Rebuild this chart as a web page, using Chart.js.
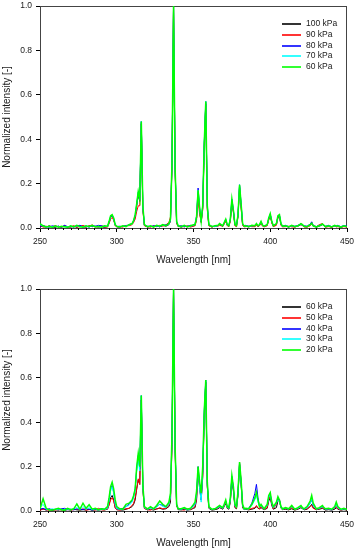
<!DOCTYPE html>
<html>
<head>
<meta charset="utf-8">
<script src="https://cdn.jsdelivr.net/npm/chart.js@4.4.0/dist/chart.umd.min.js"></script>
<style>
html, body { margin: 0; padding: 0; background: #fff; overflow: hidden; width: 356px; height: 550px; }
.box { position: absolute; left: 0; width: 356px; height: 275px; }
</style>
</head>
<body>
<div class="box" style="top:0"><canvas id="topChart" width="356" height="275"></canvas></div>
<div class="box" style="top:283px"><canvas id="bottomChart" width="356" height="275"></canvas></div>
<script>
// wavelength grid [nm], shared by both panels
const wavelengths = [
  250,252,254,256,258,260,262,264,266,268,270,272,274,276,278,280,282,284,286,288,290,292,294,
  295,296,297,298,299,300,
  302,304,306,308,310,
  311,312,313,314,315,316,317,318,
  320,322,324,326,328,330,332,334,
  335,336,337,338,339,340,
  342,344,346,348,350,
  351,352,353,354,355,356,357,358,359,360,
  362,364,366,
  367,368,369,370,371,372,373,374,375,376,377,378,379,380,381,382,383,384,
  386,388,
  390,391,392,393,394,395,396,
  398,399,400,401,402,404,405,406,407,408,
  410,412,414,416,418,
  420,421,422,
  424,426,427,428,430,432,
  434,435,436,
  438,440,442,443,444,446,448,450
];

// upper panel
const top100 = [
  0.01,0.006,0.004,0.01,0.005,0.003,0.008,0.004,0.01,0.006,0.004,0.008,0.003,0.01,0.005,0.004,0.01,0.006,0.008,0.004,0.006,0.003,0.006,
  0.025,0.05,0.055,0.04,0.012,0.005,
  0.004,0.008,0.01,0.012,0.018,
  0.03,0.05,0.1,0.15,0.12,0.47,0.09,0.012,
  0.004,0.008,0.006,0.01,0.005,0.012,0.008,0.015,
  0.03,0.28,1.0,0.27,0.025,0.008,
  0.004,0.008,0.006,0.008,0.01,
  0.012,0.045,0.16,0.08,0.025,0.09,0.37,0.56,0.09,0.012,
  0.005,0.008,0.01,
  0.015,0.012,0.008,0.02,0.035,0.012,0.008,0.035,0.12,0.075,0.012,0.008,0.055,0.19,0.1,0.015,0.006,0.008,
  0.005,0.01,
  0.008,0.015,0.008,0.012,0.025,0.01,0.006,
  0.012,0.04,0.06,0.025,0.008,0.015,0.05,0.055,0.015,0.006,
  0.008,0.004,0.01,0.005,0.008,
  0.015,0.012,0.006,
  0.005,0.012,0.02,0.008,0.004,0.008,
  0.015,0.01,0.005,
  0.008,0.004,0.01,0.006,0.008,0.003,0.008,0.005
];
const top90 = [
  0.012,0.004,0.008,0.003,0.006,0.01,0.005,0.003,0.008,0.004,0.006,0.01,0.004,0.006,0.012,0.005,0.008,0.014,0.004,0.006,0.01,0.005,0.004,
  0.02,0.04,0.048,0.035,0.01,0.006,
  0.006,0.004,0.012,0.01,0.015,
  0.025,0.04,0.075,0.1,0.1,0.47,0.08,0.01,
  0.006,0.004,0.01,0.006,0.012,0.008,0.014,0.025,
  0.05,0.28,1.0,0.26,0.02,0.006,
  0.008,0.005,0.01,0.004,0.008,
  0.01,0.035,0.13,0.06,0.03,0.08,0.36,0.56,0.08,0.01,
  0.004,0.01,0.008,
  0.012,0.01,0.006,0.018,0.03,0.01,0.006,0.03,0.11,0.07,0.01,0.006,0.05,0.18,0.09,0.012,0.005,0.006,
  0.008,0.006,
  0.006,0.012,0.006,0.01,0.02,0.008,0.005,
  0.01,0.035,0.055,0.022,0.006,0.012,0.045,0.05,0.012,0.005,
  0.006,0.008,0.005,0.004,0.01,
  0.02,0.01,0.005,
  0.004,0.01,0.025,0.01,0.006,0.015,
  0.02,0.01,0.004,
  0.006,0.004,0.008,0.005,0.006,0.004,0.006,0.004
];
const top80 = [
  0.008,0.012,0.006,0.004,0.01,0.006,0.008,0.004,0.012,0.005,0.008,0.004,0.01,0.012,0.006,0.008,0.004,0.01,0.008,0.012,0.01,0.006,0.008,
  0.025,0.05,0.058,0.042,0.014,0.006,
  0.008,0.006,0.01,0.014,0.02,
  0.032,0.055,0.105,0.16,0.125,0.48,0.095,0.014,
  0.008,0.006,0.01,0.008,0.006,0.012,0.014,0.018,
  0.035,0.3,1.0,0.28,0.028,0.008,
  0.01,0.006,0.008,0.012,0.01,
  0.018,0.055,0.18,0.09,0.03,0.1,0.38,0.57,0.1,0.014,
  0.008,0.006,0.012,
  0.018,0.012,0.01,0.022,0.038,0.014,0.01,0.04,0.13,0.08,0.014,0.012,0.058,0.195,0.11,0.018,0.01,0.012,
  0.008,0.01,
  0.012,0.018,0.008,0.014,0.028,0.014,0.01,
  0.014,0.042,0.062,0.028,0.012,0.018,0.052,0.058,0.018,0.01,
  0.012,0.006,0.01,0.008,0.012,
  0.018,0.012,0.01,
  0.008,0.018,0.028,0.012,0.006,0.012,
  0.016,0.01,0.008,
  0.012,0.006,0.01,0.01,0.012,0.006,0.012,0.008
];
const top70 = [
  0.015,0.008,0.006,0.005,0.006,0.008,0.006,0.006,0.005,0.006,0.008,0.006,0.01,0.005,0.006,0.008,0.005,0.01,0.006,0.006,0.006,0.008,0.006,
  0.028,0.052,0.058,0.043,0.013,0.007,
  0.006,0.008,0.008,0.013,0.018,
  0.033,0.058,0.108,0.162,0.128,0.48,0.098,0.014,
  0.006,0.008,0.006,0.01,0.008,0.013,0.01,0.018,
  0.038,0.3,1.0,0.28,0.03,0.01,
  0.006,0.01,0.006,0.008,0.012,
  0.016,0.05,0.17,0.088,0.03,0.1,0.38,0.57,0.1,0.014,
  0.006,0.008,0.01,
  0.018,0.014,0.01,0.024,0.04,0.014,0.01,0.04,0.13,0.08,0.015,0.01,0.06,0.195,0.11,0.02,0.008,0.01,
  0.006,0.01,
  0.01,0.018,0.01,0.014,0.028,0.012,0.008,
  0.014,0.044,0.064,0.03,0.01,0.018,0.054,0.058,0.018,0.008,
  0.01,0.006,0.01,0.006,0.01,
  0.018,0.014,0.008,
  0.006,0.014,0.022,0.01,0.006,0.01,
  0.016,0.012,0.006,
  0.01,0.006,0.01,0.008,0.01,0.005,0.01,0.006
];
const top60 = [
  0.02,0.01,0.005,0.008,0.003,0.01,0.004,0.008,0.006,0.003,0.01,0.005,0.012,0.006,0.004,0.01,0.006,0.012,0.005,0.008,0.004,0.01,0.008,
  0.03,0.055,0.06,0.045,0.015,0.008,
  0.005,0.01,0.006,0.015,0.02,
  0.035,0.06,0.11,0.165,0.13,0.48,0.1,0.015,
  0.006,0.01,0.004,0.012,0.008,0.015,0.01,0.02,
  0.04,0.3,1.0,0.28,0.03,0.01,
  0.006,0.012,0.005,0.01,0.015,
  0.015,0.05,0.17,0.09,0.03,0.1,0.38,0.57,0.1,0.015,
  0.006,0.01,0.012,
  0.02,0.015,0.01,0.025,0.04,0.015,0.01,0.04,0.13,0.08,0.015,0.01,0.06,0.195,0.11,0.02,0.008,0.01,
  0.006,0.012,
  0.01,0.02,0.01,0.015,0.03,0.012,0.008,
  0.015,0.045,0.065,0.03,0.01,0.02,0.055,0.06,0.02,0.008,
  0.01,0.005,0.012,0.006,0.01,
  0.02,0.015,0.008,
  0.006,0.015,0.022,0.01,0.005,0.01,
  0.018,0.012,0.006,
  0.01,0.005,0.012,0.008,0.01,0.004,0.01,0.006
];

// lower panel
const bot60 = [
  0.006,0.01,0.004,0.008,0.003,0.006,0.004,0.008,0.003,0.006,0.004,0.008,0.005,0.004,0.006,0.004,0.008,0.003,0.006,0.004,0.006,0.005,0.008,
  0.03,0.06,0.07,0.05,0.015,0.006,
  0.005,0.004,0.008,0.012,0.02,
  0.03,0.05,0.1,0.14,0.12,0.5,0.1,0.012,
  0.005,0.008,0.004,0.01,0.012,0.008,0.01,0.02,
  0.04,0.3,1.0,0.28,0.025,0.006,
  0.005,0.008,0.004,0.006,0.012,
  0.015,0.05,0.17,0.1,0.05,0.15,0.42,0.58,0.11,0.012,
  0.004,0.006,0.01,
  0.015,0.012,0.008,0.02,0.035,0.012,0.008,0.04,0.14,0.09,0.015,0.01,0.07,0.21,0.12,0.015,0.006,0.008,
  0.005,0.008,
  0.012,0.02,0.012,0.01,0.015,0.01,0.006,
  0.012,0.045,0.06,0.025,0.008,0.015,0.045,0.05,0.012,0.006,
  0.008,0.005,0.01,0.004,0.008,
  0.015,0.01,0.005,
  0.008,0.02,0.03,0.015,0.006,0.008,
  0.012,0.008,0.004,
  0.006,0.004,0.008,0.015,0.008,0.004,0.006,0.004
];
const bot50 = [
  0.004,0.008,0.006,0.003,0.006,0.004,0.008,0.003,0.006,0.01,0.004,0.006,0.008,0.005,0.01,0.004,0.006,0.008,0.004,0.012,0.006,0.004,0.01,
  0.025,0.05,0.06,0.045,0.015,0.006,
  0.004,0.008,0.01,0.012,0.025,
  0.035,0.06,0.1,0.145,0.12,0.5,0.1,0.012,
  0.006,0.004,0.01,0.008,0.015,0.01,0.012,0.025,
  0.06,0.3,1.0,0.28,0.025,0.008,
  0.006,0.004,0.01,0.006,0.015,
  0.02,0.06,0.18,0.11,0.05,0.16,0.43,0.58,0.11,0.014,
  0.006,0.008,0.012,
  0.018,0.015,0.01,0.025,0.04,0.014,0.01,0.045,0.15,0.1,0.02,0.012,0.08,0.22,0.13,0.02,0.008,0.01,
  0.006,0.012,
  0.015,0.025,0.015,0.008,0.02,0.012,0.006,
  0.015,0.05,0.07,0.03,0.01,0.03,0.06,0.045,0.015,0.008,
  0.01,0.006,0.015,0.005,0.01,
  0.018,0.012,0.006,
  0.01,0.02,0.025,0.012,0.006,0.01,
  0.015,0.01,0.006,
  0.008,0.006,0.012,0.02,0.01,0.005,0.008,0.005
];
const bot40 = [
  0.008,0.012,0.006,0.01,0.005,0.008,0.006,0.01,0.012,0.006,0.008,0.005,0.01,0.008,0.006,0.012,0.008,0.005,0.008,0.006,0.01,0.008,0.015,
  0.05,0.1,0.115,0.085,0.035,0.012,
  0.008,0.012,0.02,0.03,0.045,
  0.065,0.1,0.19,0.25,0.19,0.52,0.12,0.018,
  0.008,0.015,0.012,0.02,0.03,0.025,0.018,0.035,
  0.07,0.34,1.0,0.3,0.03,0.01,
  0.008,0.012,0.006,0.01,0.025,
  0.03,0.08,0.2,0.12,0.05,0.18,0.45,0.59,0.12,0.018,
  0.006,0.01,0.015,
  0.02,0.018,0.012,0.028,0.045,0.018,0.012,0.055,0.155,0.1,0.025,0.018,0.085,0.215,0.13,0.025,0.01,0.01,
  0.012,0.035,
  0.08,0.12,0.06,0.02,0.025,0.015,0.008,
  0.025,0.06,0.075,0.035,0.015,0.035,0.055,0.05,0.018,0.01,
  0.012,0.008,0.02,0.01,0.012,
  0.022,0.012,0.008,
  0.015,0.035,0.05,0.025,0.008,0.012,
  0.02,0.012,0.008,
  0.01,0.006,0.015,0.03,0.015,0.006,0.01,0.006
];
const bot30 = [
  0.015,0.03,0.008,0.006,0.01,0.006,0.008,0.005,0.006,0.008,0.005,0.01,0.015,0.006,0.02,0.008,0.015,0.006,0.01,0.005,0.008,0.006,0.012,
  0.045,0.09,0.11,0.08,0.03,0.01,
  0.008,0.006,0.02,0.025,0.04,
  0.06,0.09,0.18,0.23,0.18,0.52,0.11,0.015,
  0.008,0.012,0.008,0.018,0.03,0.02,0.015,0.03,
  0.065,0.33,1.0,0.3,0.03,0.01,
  0.008,0.012,0.006,0.01,0.02,
  0.03,0.075,0.19,0.1,0.04,0.18,0.44,0.59,0.12,0.016,
  0.006,0.01,0.015,
  0.02,0.016,0.012,0.026,0.045,0.016,0.012,0.05,0.155,0.1,0.025,0.015,0.08,0.215,0.13,0.025,0.008,0.01,
  0.008,0.025,
  0.05,0.07,0.04,0.02,0.025,0.015,0.008,
  0.025,0.06,0.075,0.035,0.015,0.035,0.05,0.045,0.015,0.008,
  0.012,0.008,0.02,0.006,0.012,
  0.02,0.012,0.008,
  0.015,0.035,0.055,0.025,0.008,0.012,
  0.02,0.012,0.008,
  0.01,0.006,0.015,0.03,0.015,0.006,0.01,0.006
];
const bot20 = [
  0.01,0.055,0.012,0.005,0.004,0.008,0.012,0.006,0.004,0.012,0.006,0.01,0.032,0.008,0.035,0.012,0.028,0.008,0.012,0.006,0.01,0.008,0.02,
  0.06,0.11,0.13,0.1,0.05,0.02,
  0.01,0.008,0.03,0.035,0.05,
  0.07,0.1,0.2,0.26,0.2,0.52,0.12,0.02,
  0.01,0.02,0.01,0.025,0.045,0.03,0.02,0.04,
  0.08,0.35,1.0,0.3,0.03,0.01,
  0.01,0.015,0.008,0.012,0.03,
  0.04,0.09,0.2,0.13,0.08,0.2,0.45,0.59,0.13,0.02,
  0.008,0.01,0.02,
  0.025,0.02,0.015,0.03,0.05,0.02,0.015,0.06,0.16,0.11,0.03,0.02,0.09,0.22,0.14,0.03,0.01,0.012,
  0.01,0.03,
  0.06,0.085,0.05,0.02,0.03,0.02,0.01,
  0.03,0.07,0.083,0.04,0.02,0.04,0.065,0.05,0.02,0.01,
  0.015,0.01,0.025,0.008,0.015,
  0.025,0.015,0.01,
  0.02,0.045,0.07,0.035,0.01,0.015,
  0.025,0.015,0.01,
  0.012,0.008,0.02,0.04,0.02,0.008,0.012,0.006
];

const topLabels = ['100 kPa', '90 kPa', '80 kPa', '70 kPa', '60 kPa'];
const bottomLabels = ['60 kPa', '50 kPa', '40 kPa', '30 kPa', '20 kPa'];
const lineColors = ['#000000', '#ff0000', '#0000ff', '#00ffff', '#00ff00'];

const FONT = '"Liberation Sans", Arial, sans-serif';
const TEXT = '#1a1a1a';

// frame round the plot area + minor x ticks
const framePlugin = {
  id: 'frame',
  beforeDatasetsDraw(chart) {
    const { ctx, chartArea: a, scales } = chart;
    ctx.save();
    ctx.strokeStyle = '#444';
    ctx.lineWidth = 1;
    ctx.strokeRect(a.left + 0.5, a.top + 0.5, a.right - a.left - 1, a.bottom - a.top);
    ctx.strokeStyle = '#000';
    ctx.beginPath();
    for (let v = 255; v < 450; v += 5) {
      if (v % 50 === 0) continue;
      const x = Math.round(scales.x.getPixelForValue(v)) + 0.5;
      ctx.moveTo(x, a.bottom);
      ctx.lineTo(x, a.bottom + 2);
    }
    ctx.stroke();
    ctx.restore();
  }
};

// legend with line samples, inside the plot area at top right
const lineLegend = {
  id: 'lineLegend',
  afterDraw(chart) {
    const { ctx, chartArea: a } = chart;
    ctx.save();
    ctx.font = '8.5px ' + FONT;
    ctx.textBaseline = 'middle';
    chart.data.datasets.forEach((ds, i) => {
      const y = Math.round(a.top + 18 + i * 10.75);
      ctx.strokeStyle = ds.borderColor;
      ctx.lineWidth = 1.6;
      ctx.beginPath();
      ctx.moveTo(a.right - 65, y);
      ctx.lineTo(a.right - 46, y);
      ctx.stroke();
      ctx.fillStyle = TEXT;
      ctx.fillText(ds.label, a.right - 41, y);
    });
    ctx.restore();
  }
};

function makeChart(id, labels, seriesList) {
  const datasets = seriesList.map((vals, i) => ({
    label: labels[i],
    data: wavelengths.map((w, j) => ({ x: w, y: vals[j] })),
    borderColor: lineColors[i],
    borderWidth: i === 4 ? 1.5 : 1,
    pointRadius: 0,
    tension: 0,
    order: 4 - i
  }));
  return new Chart(document.getElementById(id), {
    type: 'line',
    data: { datasets },
    plugins: [framePlugin, lineLegend],
    options: {
      responsive: false,
      animation: false,
      devicePixelRatio: 1,
      layout: { padding: { top: 6, right: 9, bottom: 0, left: 0 } },
      plugins: { legend: { display: false }, tooltip: { enabled: false } },
      scales: {
        x: {
          type: 'linear', min: 250, max: 450,
          ticks: { stepSize: 50, color: TEXT, font: { family: FONT, size: 8.5 }, padding: 5, maxRotation: 0 },
          grid: { drawOnChartArea: false, drawTicks: true, tickLength: 4, tickColor: '#000' },
          border: { display: true, color: '#000', width: 1 },
          title: { display: true, text: 'Wavelength [nm]', color: TEXT, font: { family: FONT, size: 10 }, padding: { top: 0, bottom: 9 } },
          afterFit(s) { s.height = 47; s.paddingLeft = 0; s.paddingRight = 0; }
        },
        y: {
          min: 0, max: 1,
          ticks: { stepSize: 0.2, color: TEXT, font: { family: FONT, size: 8.5 }, padding: 4, callback: v => v.toFixed(1) },
          grid: { drawOnChartArea: false, drawTicks: true, tickLength: 4, tickColor: '#000' },
          border: { display: true, color: '#000', width: 1 },
          title: { display: true, text: 'Normalized intensity [-]', color: TEXT, font: { family: FONT, size: 10 }, padding: { top: 1, bottom: 0 } },
          afterFit(s) { s.width = 40; s.paddingTop = 0; s.paddingBottom = 0; }
        }
      }
    }
  });
}

makeChart('topChart', topLabels, [top100, top90, top80, top70, top60]);
makeChart('bottomChart', bottomLabels, [bot60, bot50, bot40, bot30, bot20]);
</script>
</body>
</html>
